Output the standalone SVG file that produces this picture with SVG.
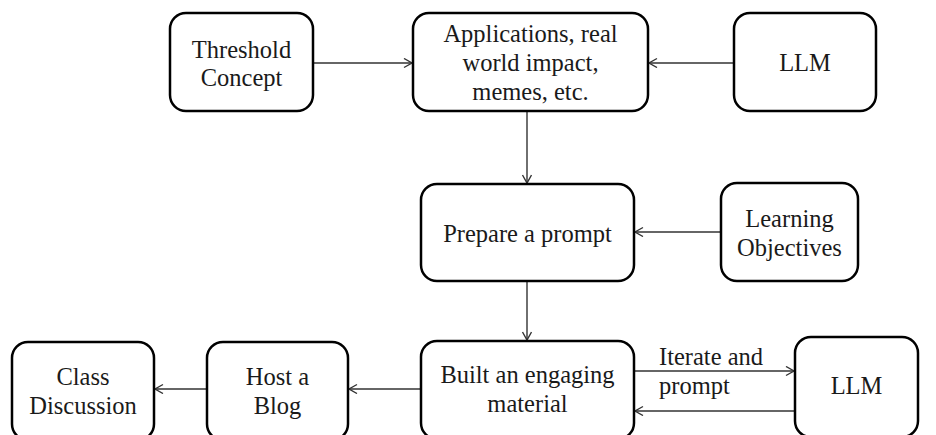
<svg xmlns="http://www.w3.org/2000/svg" width="936" height="435" viewBox="0 0 936 435">
<style>
.box{fill:#fff;stroke:#000;stroke-width:2.5}
text{font-family:"Liberation Serif","Times New Roman",serif;font-size:24.5px;fill:#1a1a1a;text-anchor:middle}
.lbl{text-anchor:start}
.conn{stroke:#333;stroke-width:1.4;fill:none}
</style>
<defs>
<marker id="ah" markerUnits="userSpaceOnUse" markerWidth="12" markerHeight="12" refX="9" refY="5" orient="auto">
<path d="M1,0.5 L9,5 L1,9.5" fill="none" stroke="#333" stroke-width="1.4"/>
</marker>
</defs>
<rect width="936" height="435" fill="#fff"/>
<g id="connectors">
<line class="conn" x1="313" y1="63" x2="412" y2="63" marker-end="url(#ah)"/>
<line class="conn" x1="734" y1="63" x2="649" y2="63" marker-end="url(#ah)"/>
<line class="conn" x1="527" y1="111" x2="527" y2="183" marker-end="url(#ah)"/>
<line class="conn" x1="721" y1="232" x2="635" y2="232" marker-end="url(#ah)"/>
<line class="conn" x1="527" y1="281" x2="527" y2="340" marker-end="url(#ah)"/>
<line class="conn" x1="634" y1="371" x2="794" y2="371" marker-end="url(#ah)"/>
<line class="conn" x1="795" y1="411" x2="635" y2="411" marker-end="url(#ah)"/>
<line class="conn" x1="421" y1="389" x2="349" y2="389" marker-end="url(#ah)"/>
<line class="conn" x1="207" y1="389" x2="155" y2="389" marker-end="url(#ah)"/>
<text class="lbl" x="659" y="365">Iterate and</text>
<text class="lbl" x="659" y="394">prompt</text>
</g>
<g id="threshold">
<rect class="box" x="170" y="13" width="143" height="98" rx="16"/>
<text x="241.5" y="57.5">Threshold</text>
<text x="241.5" y="86">Concept</text>
</g>
<g id="applications">
<rect class="box" x="413" y="13" width="235" height="98" rx="16"/>
<text x="530.5" y="42">Applications, real</text>
<text x="530.5" y="71">world impact,</text>
<text x="530.5" y="100">memes, etc.</text>
</g>
<g id="llm-top">
<rect class="box" x="734" y="13" width="142" height="98" rx="16"/>
<text x="805" y="71">LLM</text>
</g>
<g id="prepare">
<rect class="box" x="421" y="184" width="213" height="97" rx="16"/>
<text x="527.5" y="241.5">Prepare a prompt</text>
</g>
<g id="objectives">
<rect class="box" x="721" y="183" width="137" height="98" rx="16"/>
<text x="789.5" y="227">Learning</text>
<text x="789.5" y="256">Objectives</text>
</g>
<g id="built">
<rect class="box" x="421" y="341" width="213" height="98" rx="16"/>
<text x="527.5" y="383">Built an engaging</text>
<text x="527.5" y="412">material</text>
</g>
<g id="llm-bottom">
<rect class="box" x="795" y="337" width="123" height="100" rx="16"/>
<text x="856.5" y="394">LLM</text>
</g>
<g id="host">
<rect class="box" x="207" y="342" width="141" height="98" rx="16"/>
<text x="277.5" y="385">Host a</text>
<text x="277.5" y="414">Blog</text>
</g>
<g id="class">
<rect class="box" x="12" y="342" width="142" height="98" rx="16"/>
<text x="83" y="385">Class</text>
<text x="83" y="414">Discussion</text>
</g>
</svg>
